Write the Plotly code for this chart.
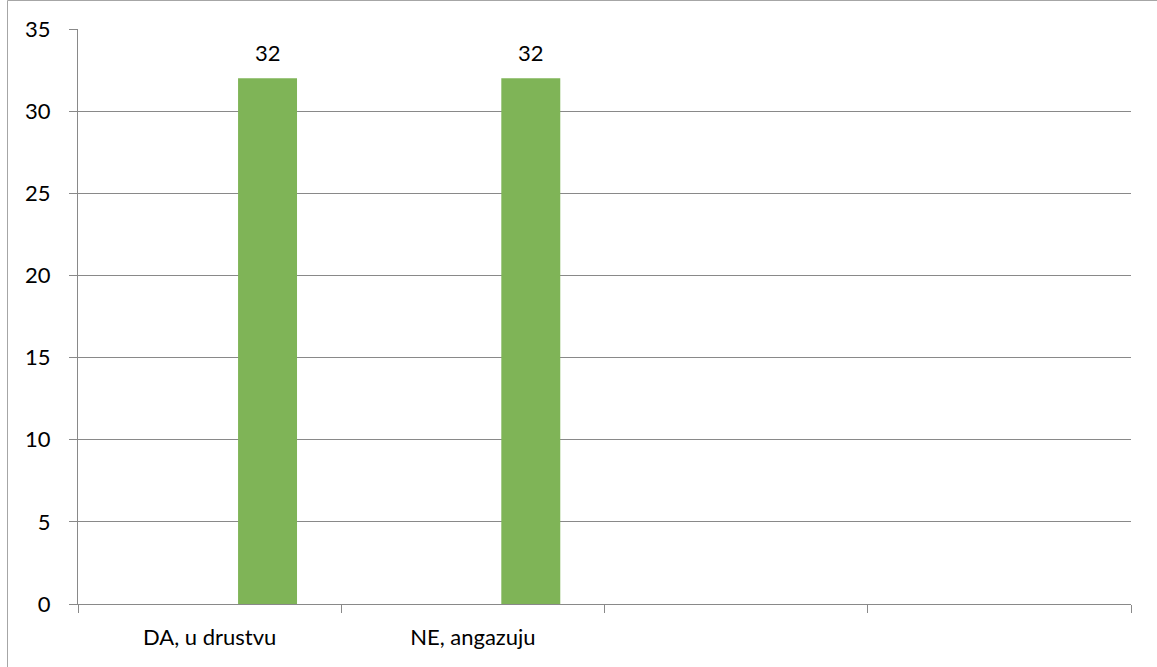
import plotly.graph_objects as go

# Categories (the last two have no answers)
categories = ["DA, u drustvu", "NE, angazuju", " ", "  "]
values = [32, 32, None, None]

y_ticks = [0, 5, 10, 15, 20, 25, 30, 35]

BAR_COLOR = "#7FB457"
AXIS_COLOR = "#898989"
FONT = "Lato, Carlito, Calibri, 'Open Sans', sans-serif"
FONT_SIZE = 22

fig = go.Figure()

# Third bar of a three-slot cluster: narrow and shifted right of the category centre
fig.add_trace(go.Bar(
    x=categories,
    y=values,
    width=0.224,
    offset=0.108,
    marker=dict(color=BAR_COLOR, line=dict(width=0)),
    hoverinfo="x+y",
    showlegend=False,
))

# Value labels above each bar
for cat, val in zip(categories, values):
    if val is None:
        continue
    fig.add_annotation(
        x=cat, y=val, text=str(val),
        xshift=0.22 * 263.25, yshift=26,
        showarrow=False,
        font=dict(family=FONT, size=FONT_SIZE, color="#000000"),
    )

# Outer chart frame
fig.add_shape(
    type="rect", xref="paper", yref="paper",
    x0=(7.5 - 78) / 1053, x1=1.2, y0=-0.3, y1=(604 - 0.5) / 575,
    line=dict(color="#a6a6a6", width=1),
    layer="below",
)

fig.update_layout(
    width=1157,
    height=667,
    margin=dict(l=78, r=26, t=29, b=63),
    paper_bgcolor="#ffffff",
    plot_bgcolor="#ffffff",
    font=dict(family=FONT, size=FONT_SIZE, color="#000000"),
    xaxis=dict(
        type="category",
        categoryorder="array",
        categoryarray=categories,
        range=[-0.5, 3.5],
        tickson="boundaries",
        ticks="outside",
        ticklen=8,
        tickwidth=1,
        tickcolor=AXIS_COLOR,
        showline=True,
        linecolor=AXIS_COLOR,
        linewidth=1,
        showgrid=False,
        ticklabelstandoff=14,
        tickfont=dict(family=FONT, size=FONT_SIZE, color="#000000"),
    ),
    yaxis=dict(
        range=[0, 35],
        tickvals=y_ticks,
        ticks="outside",
        ticklen=8,
        tickwidth=1,
        tickcolor=AXIS_COLOR,
        showline=True,
        linecolor=AXIS_COLOR,
        linewidth=1,
        showgrid=True,
        gridcolor=AXIS_COLOR,
        gridwidth=1,
        zeroline=False,
        ticklabelstandoff=14,
        tickfont=dict(family=FONT, size=FONT_SIZE, color="#000000"),
    ),
)

fig.write_html("out.html")
